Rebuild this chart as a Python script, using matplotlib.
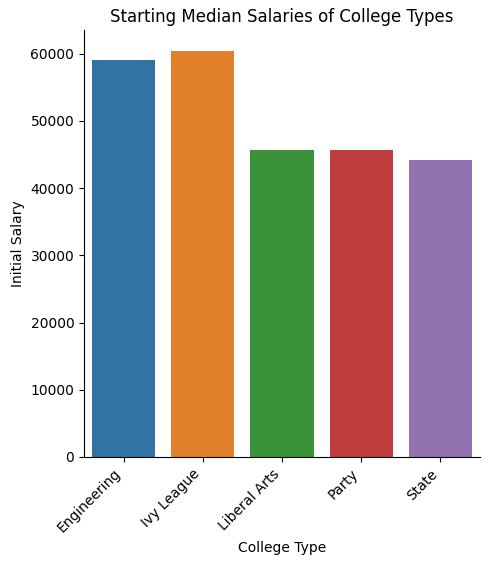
import matplotlib
matplotlib.use("Agg")
import matplotlib.pyplot as plt
import seaborn as sns

categories = ["Engineering", "Ivy League", "Liberal Arts", "Party", "State"]
salaries = [59100, 60450, 45700, 45700, 44200]

fig = plt.figure(figsize=(4.9, 5.65), dpi=100)
ax = fig.add_axes([84/490, 1-457/565, 396/490, 427/565])
colors = [sns.desaturate(c, 0.75) for c in sns.color_palette("tab10")[:5]]
ax.bar(range(len(categories)), salaries, color=colors, width=0.8)
ax.set_xlim(-0.5, 4.5)
ax.set_ylim(0, 63500)
ax.set_xticks(range(len(categories)))
ax.set_xticklabels(categories, rotation=45, ha="right")
ax.spines["top"].set_visible(False)
ax.spines["right"].set_visible(False)
ax.set_xlabel("College Type")
ax.set_ylabel("Initial Salary")
ax.set_title("Starting Median Salaries of College Types")
fig.savefig("out.png", dpi=100)
